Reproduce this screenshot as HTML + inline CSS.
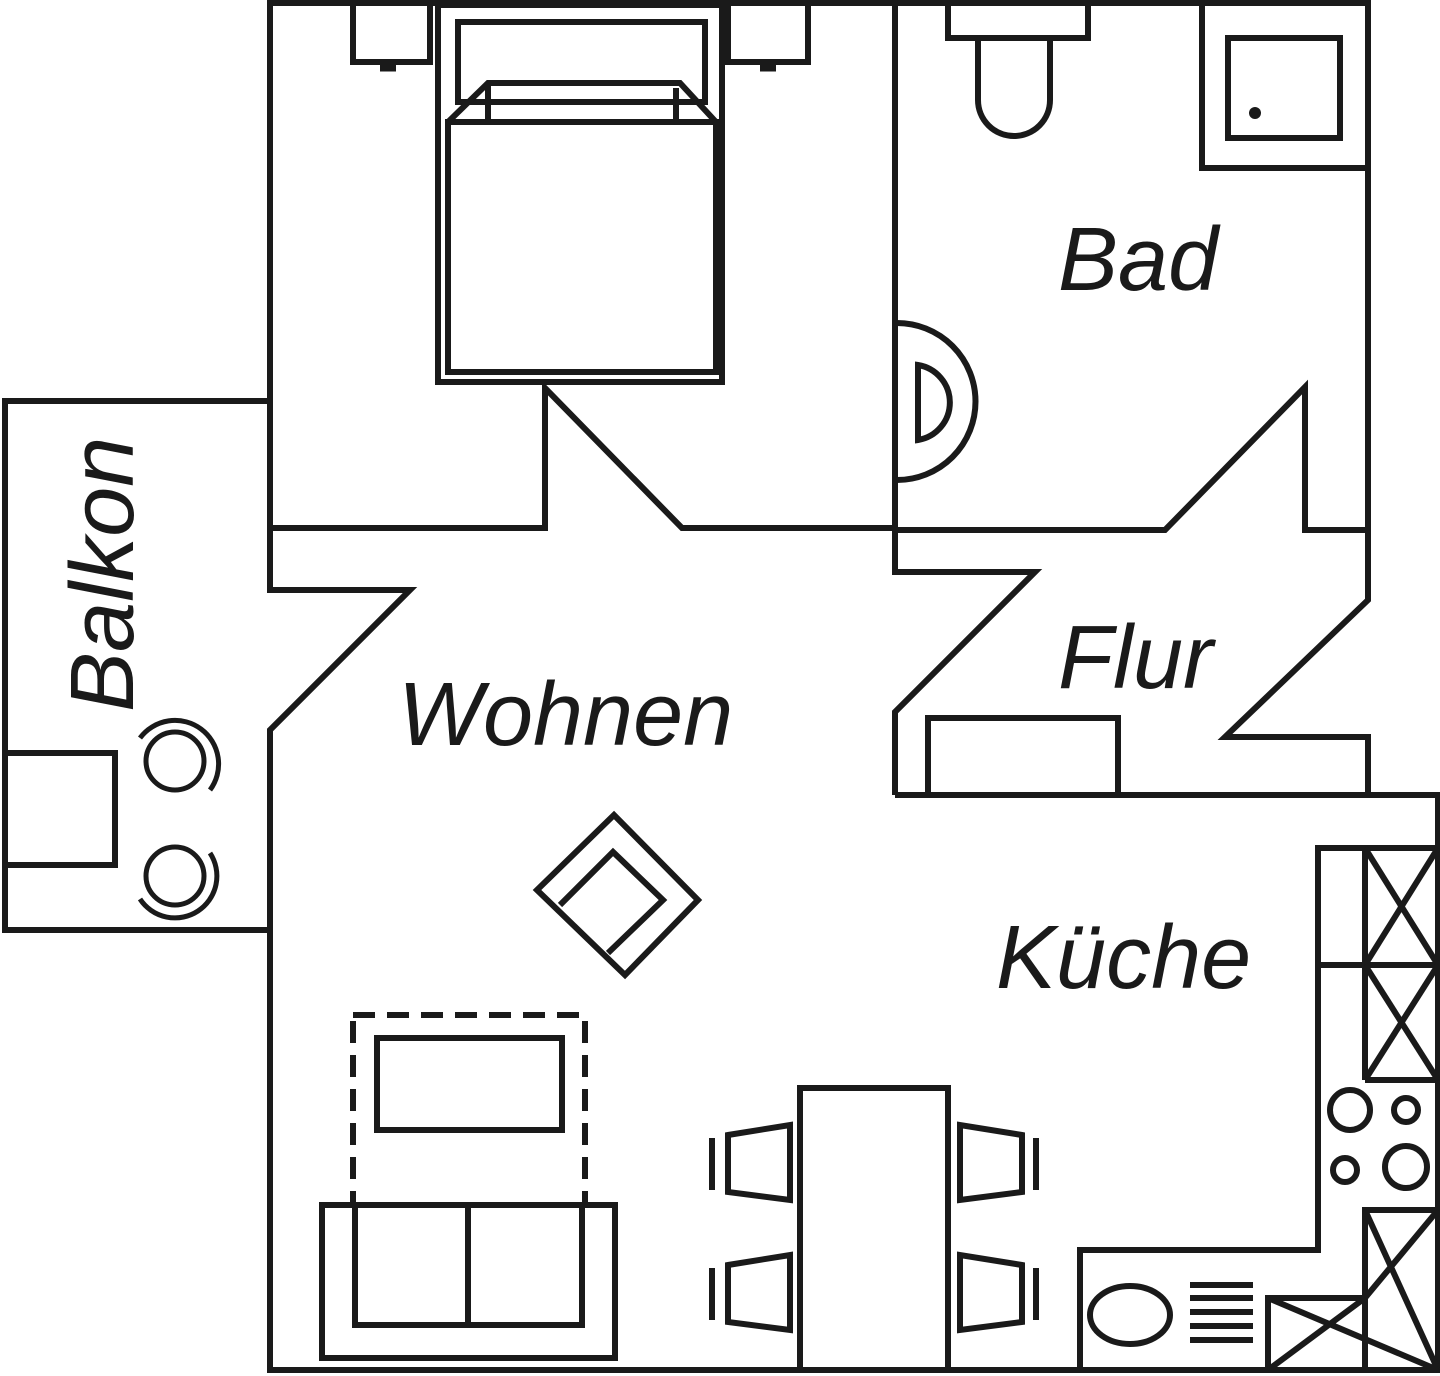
<!DOCTYPE html>
<html><head><meta charset="utf-8"><style>
html,body{margin:0;padding:0;background:#fff;}
svg{display:block}
text{font-family:"Liberation Sans",sans-serif;font-style:italic;fill:#1a1a1a;}
</style></head><body>
<svg width="1440" height="1376" viewBox="0 0 1440 1376" xmlns="http://www.w3.org/2000/svg">
<g fill="none" stroke="#1a1a1a" stroke-width="6" stroke-linejoin="miter">
<polyline points="270,530 270,3 1368,3 1368,600 1225,737 1368,737 1368,795"/>
<polyline points="895,795 1438,795 1438,1370 270,1370 270,730 410,590 270,590 270,530"/>
<polyline points="270,528 545,528 545,388 682,528 895,528"/>
<line x1="895" y1="3" x2="895" y2="530"/>
<polyline points="895,530 1165,530 1305,387 1305,530 1368,530"/>
<polyline points="895,530 895,572 1035,572 895,712 895,795"/>
<path d="M897,323 A78,78 0 0 1 897,480"/>
<path d="M918,365 L918,440 A38,38 0 0 0 918,365 Z"/>
<polyline points="270,401 5,401 5,930 270,930"/>
<polyline points="5,753 115,753 115,865 5,865"/>
<circle cx="175" cy="761" r="29" stroke-width="5"/>
<path d="M140,738 A40,40 0 1 1 210,790" stroke-width="5"/>
<circle cx="175" cy="876" r="29" stroke-width="5"/>
<path d="M210,853 A40,40 0 1 1 140,899" stroke-width="5"/>
<polyline points="353,3 353,62 430,62 430,3"/>
<polyline points="728,3 728,62 808,62 808,3"/>
<line x1="380" y1="68" x2="396" y2="68" stroke-width="7"/>
<line x1="760" y1="68" x2="776" y2="68" stroke-width="7"/>
<rect x="438" y="5" width="284" height="377"/>
<rect x="458" y="22" width="247" height="80"/>
<rect x="448" y="122" width="268" height="250"/>
<polyline points="448,122 488,83 680,83 716,122"/>
<polyline points="488,83 488,122"/><polyline points="676,88 676,122"/>
<polygon points="614,815 698,900 625,975 537,890"/>
<polyline points="560,905 613,852 663,900 608,953"/>
<rect x="353" y="1015" width="232" height="190" stroke-dasharray="22,12"/>
<rect x="377" y="1038" width="185" height="92"/>
<rect x="322" y="1205" width="293" height="153"/>
<polyline points="355,1205 355,1325 582,1325 582,1205"/>
<line x1="468" y1="1205" x2="468" y2="1325"/>
<rect x="800" y="1088" width="148" height="282"/>
<polygon points="728,1135 790,1125 790,1200 728,1192"/>
<polygon points="728,1265 790,1255 790,1330 728,1322"/>
<line x1="712" y1="1138" x2="712" y2="1190"/><line x1="712" y1="1268" x2="712" y2="1320"/>
<polygon points="1022,1135 960,1125 960,1200 1022,1192"/>
<polygon points="1022,1265 960,1255 960,1330 1022,1322"/>
<line x1="1036" y1="1138" x2="1036" y2="1190"/><line x1="1036" y1="1268" x2="1036" y2="1320"/>
<polyline points="928,795 928,718 1118,718 1118,795"/>
<polyline points="948,3 948,38 1088,38 1088,3"/>
<path d="M978,38 L978,100 A36,36 0 0 0 1050,100 L1050,38"/>
<polyline points="1202,3 1202,168 1368,168"/>
<rect x="1228" y="38" width="112" height="100"/>
<polyline points="1438,848 1318,848 1318,1250 1080,1250 1080,1370"/>
<line x1="1365" y1="848" x2="1365" y2="1080"/>
<line x1="1318" y1="965" x2="1438" y2="965"/>
<line x1="1365" y1="1080" x2="1438" y2="1080"/>
<line x1="1365" y1="848" x2="1438" y2="965"/><line x1="1438" y1="848" x2="1365" y2="965"/>
<line x1="1365" y1="965" x2="1438" y2="1080"/><line x1="1438" y1="965" x2="1365" y2="1080"/>
<circle cx="1350" cy="1110" r="20"/><circle cx="1406" cy="1110" r="12"/>
<circle cx="1345" cy="1170" r="12"/><circle cx="1406" cy="1167" r="21"/>
<polyline points="1365,1370 1365,1210 1438,1210"/>
<line x1="1365" y1="1210" x2="1438" y2="1370"/><line x1="1438" y1="1210" x2="1365" y2="1298"/>
<rect x="1268" y="1298" width="97" height="72"/>
<line x1="1268" y1="1298" x2="1438" y2="1370"/><line x1="1365" y1="1298" x2="1268" y2="1370"/>
<ellipse cx="1130" cy="1315" rx="40" ry="29"/>
<g stroke-width="6"><line x1="1190" y1="1285" x2="1253" y2="1285"/><line x1="1190" y1="1298" x2="1253" y2="1298"/><line x1="1190" y1="1312" x2="1253" y2="1312"/><line x1="1190" y1="1326" x2="1253" y2="1326"/><line x1="1190" y1="1340" x2="1253" y2="1340"/></g>
</g>
<circle cx="1255" cy="113" r="6" fill="#1a1a1a"/>
<text x="1058" y="290" font-size="90">Bad</text>
<text x="1058" y="688" font-size="90">Flur</text>
<text x="398" y="745" font-size="90">Wohnen</text>
<text x="996" y="988" font-size="90">Küche</text>
<text transform="translate(133,712) rotate(-90)" font-size="90">Balkon</text>
</svg>
</body></html>
